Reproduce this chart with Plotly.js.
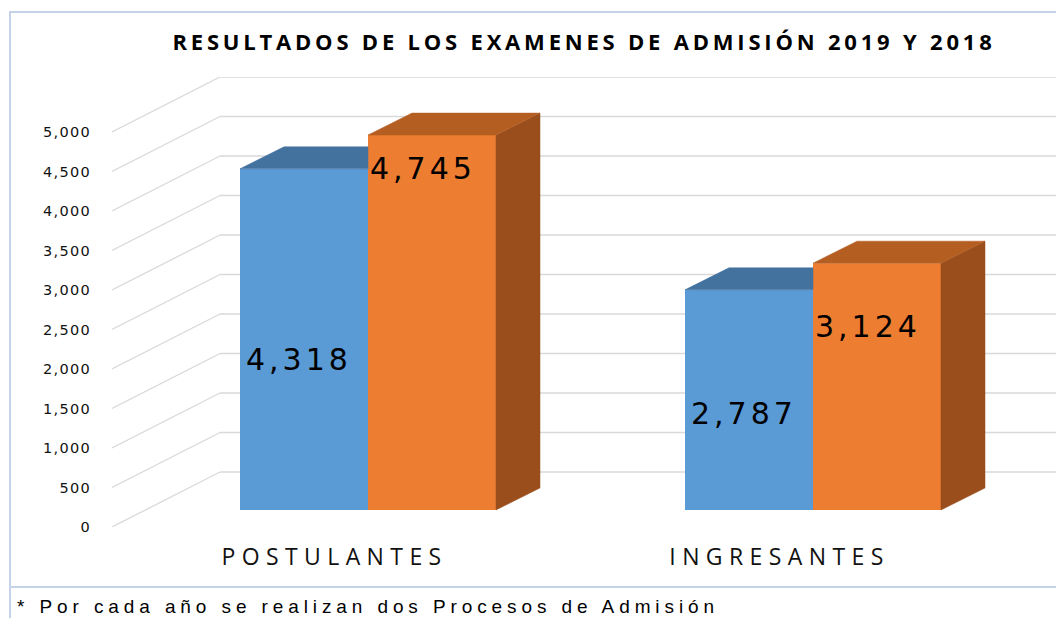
<!DOCTYPE html>
<html>
<head>
<meta charset="utf-8">
<script src="https://cdn.plot.ly/plotly-3.0.1.min.js"></script>
<style>html,body{margin:0;padding:0;background:#fff;}#chart{width:1056px;height:618px;}</style>
</head>
<body>
<div id="chart"></div>
<script>
// ---- data ----
const categories = ['POSTULANTES', 'INGRESANTES'];
const seriesNames = ['2019', '2018'];
const valuesBlue = [4318, 2787];
const valuesOrange = [4745, 3124];
const yTicks = [0, 500, 1000, 1500, 2000, 2500, 3000, 3500, 4000, 4500, 5000];
const titleText = 'RESULTADOS DE LOS EXAMENES DE ADMISIÓN 2019 Y 2018';
const footnoteText = '* Por cada año se realizan dos Procesos de Admisión';

// ---- layout geometry ----
const W = 1056, H = 618;
const M = {l: 112, r: 0, t: 77, b: 91};
const plotW = W - M.l - M.r, plotH = H - M.t - M.b;
const pxPerY = 395 / 5000;
const pxPerX = 445;
const yMax = plotH / pxPerY;
const xMin = -(368 - M.l) / pxPerX;
const xMax = xMin + plotW / pxPerX;
const wallDX = 108 / pxPerX, wallDY = 55 / pxPerY;
const barW = 128 / pxPerX;
const barDX = 44 / pxPerX, barDY = 22 / pxPerY;
const depthFrac = 0.31;
const barBase = depthFrac * wallDY;
const labelFrac = [[0.44, 0.44], [0.91, 0.745]];

const colors = {
  blueFront: '#5B9BD5', blueTop: '#43729E', blueSide: '#3D6A94',
  orangeFront: '#ED7D31', orangeTop: '#B55E22', orangeSide: '#9A4E1C',
  grid: '#D9D9D9'
};

const fmt = v => v.toLocaleString('en-US');
const spaced = (s, ls) => `<span style="letter-spacing:${ls}px">${s}</span>`;
const catPos = categories.map((c, i) => i);

// ---- gridlines ----
const shapes = [];
yTicks.forEach(t => {
  shapes.push({type: 'line', xref: 'x', yref: 'y', layer: 'below',
    x0: xMin, y0: t, x1: xMin + wallDX, y1: t + wallDY,
    line: {color: colors.grid, width: 1.3}});
  shapes.push({type: 'line', xref: 'x', yref: 'y', layer: 'below',
    x0: xMin + wallDX, y0: t + wallDY, x1: xMax, y1: t + wallDY,
    line: {color: colors.grid, width: 1.3}});
});
const px2paperX = px => (px - M.l) / plotW;
const px2paperY = py => (H - M.b - py) / plotH;
shapes.push({type: 'rect', xref: 'paper', yref: 'paper', layer: 'below',
  x0: px2paperX(10), x1: px2paperX(1075), y0: px2paperY(587), y1: px2paperY(12),
  line: {color: '#C5D3E8', width: 2}, fillcolor: 'rgba(0,0,0,0)'});
shapes.push({type: 'line', xref: 'paper', yref: 'paper', layer: 'below',
  x0: px2paperX(10), x1: px2paperX(10), y0: px2paperY(618), y1: px2paperY(587),
  line: {color: '#C5D3E8', width: 2}});

// ---- traces ----
const traces = [];
const series = [
  {vals: valuesBlue, name: seriesNames[0], front: colors.blueFront, top: colors.blueTop, side: colors.blueSide, off: -barW / 2, hidden: true},
  {vals: valuesOrange, name: seriesNames[1], front: colors.orangeFront, top: colors.orangeTop, side: colors.orangeSide, off: barW / 2, hidden: false}
];
series.forEach(s => {
  traces.push({type: 'bar', x: catPos.map(c => c + s.off), y: s.vals,
    base: s.vals.map(() => barBase), width: barW, name: s.name,
    marker: {color: s.front, line: {width: 0}}, hoverinfo: 'skip', showlegend: false});
});
series.forEach(s => {
  s.vals.forEach((v, i) => {
    const x0 = catPos[i] + s.off - barW / 2, x1 = x0 + barW;
    const top = barBase + v;
    let tx, ty;
    if (s.hidden) {
      tx = [x0, x1, x1, x0 + barDX, x0];
      ty = [top, top, top + barDY, top + barDY, top];
    } else {
      tx = [x0, x1, x1 + barDX, x0 + barDX, x0];
      ty = [top, top, top + barDY, top + barDY, top];
      traces.push({type: 'scatter', mode: 'lines', fill: 'toself',
        x: [x1, x1, x1 + barDX, x1 + barDX, x1],
        y: [barBase, top, top + barDY, barBase + barDY, barBase],
        fillcolor: s.side, line: {color: s.side, width: 0.5},
        hoverinfo: 'skip', showlegend: false});
    }
    traces.push({type: 'scatter', mode: 'lines', fill: 'toself', x: tx, y: ty,
      fillcolor: s.top, line: {color: s.top, width: 0.5},
      hoverinfo: 'skip', showlegend: false});
  });
});

// ---- annotations ----
const annotations = [];
series.forEach((s, si) => {
  s.vals.forEach((v, i) => {
    const x0 = catPos[i] + s.off - barW / 2;
    annotations.push({xref: 'x', yref: 'y', x: x0, y: barBase + labelFrac[si][i] * v,
      xanchor: 'left', yanchor: 'middle', xshift: si === 0 ? 4 : 0, showarrow: false,
      text: spaced(fmt(v), 4),
      font: {family: 'DejaVu Sans', size: 30, color: '#000'}});
  });
});
annotations.push({xref: 'paper', yref: 'paper', x: px2paperX(15), y: px2paperY(606),
  xanchor: 'left', yanchor: 'middle', showarrow: false,
  text: spaced(footnoteText, 4.9),
  font: {family: 'Liberation Sans', size: 19, color: '#000'}});

const layout = {
  width: W, height: H,
  margin: M,
  paper_bgcolor: '#fff', plot_bgcolor: 'rgba(0,0,0,0)',
  showlegend: false,
  barmode: 'overlay',
  title: {text: spaced(titleText, 3.8), x: 584 / W, xanchor: 'center', xref: 'container',
    y: 1 - 42 / H, yanchor: 'middle', yref: 'container',
    font: {family: 'Open Sans', size: 22, weight: 700, color: '#000'}},
  xaxis: {range: [xMin, xMax], showgrid: false, zeroline: false, showline: false,
    tickvals: catPos.map(c => c - depthFrac * wallDX),
    ticktext: categories.map(c => spaced(c, 6.4)),
    ticks: '', ticklabelstandoff: 14,
    tickfont: {family: 'Open Sans', size: 23, color: '#111'}, fixedrange: true},
  yaxis: {range: [0, yMax], showgrid: false, zeroline: false, showline: false,
    tickvals: yTicks, ticktext: yTicks.map(t => spaced(fmt(t), 1.3)),
    ticks: 'outside', ticklen: 17, tickcolor: 'rgba(0,0,0,0)',
    tickfont: {family: 'DejaVu Sans', size: 14.5, color: '#111'}, fixedrange: true},
  shapes: shapes,
  annotations: annotations
};

Plotly.newPlot('chart', traces, layout, {displayModeBar: false, staticPlot: true});
</script>
</body>
</html>
